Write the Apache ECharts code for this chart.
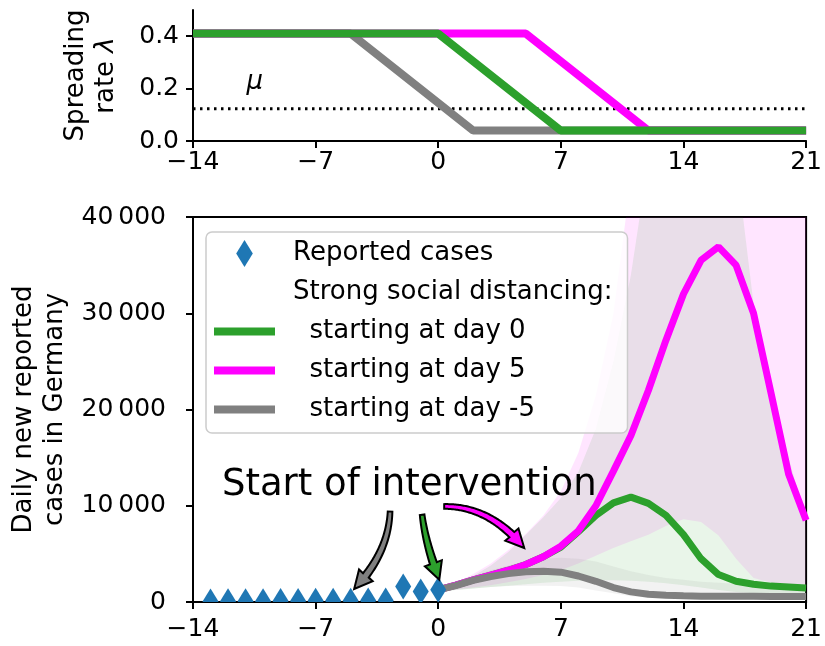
<!DOCTYPE html>
<html><head><meta charset="utf-8">
<script src="https://cdn.jsdelivr.net/npm/echarts@6/dist/echarts.min.js"></script>
<style>html,body{margin:0;padding:0;background:#fff}#c{width:825px;height:646px}</style>
</head><body><div id="c"></div>
<script>
// ---------- top panel: spreading rate ----------
const lambdaGray    = [[-14, 0.41], [-5, 0.41], [2, 0.04], [21, 0.04]];
const lambdaMagenta = [[-14, 0.41], [5, 0.41], [12, 0.04], [21, 0.04]];
const lambdaGreen   = [[-14, 0.41], [0, 0.41], [7, 0.04], [21, 0.04]];
const muValue = 0.123;
const xTicks = [-14, -7, 0, 7, 14, 21];
const topYTicks = [0, 0.2, 0.4];
const bottomYTicks = [0, 10000, 20000, 30000, 40000];

// ---------- bottom panel: daily new cases ----------
const reportedDays  = [-13, -12, -11, -10, -9, -8, -7, -6, -5, -4, -3, -2, -1, 0];
const reportedCases = [60, 70, 80, 90, 100, 110, 120, 130, 140, 150, 160, 1620, 1100, 1280];
const forecastDays  = [0,1,2,3,4,5,6,7,8,9,10,11,12,13,14,15,16,17,18,19,20,21];
const casesGreen    = [1250,1750,2300,2800,3300,3900,4700,5700,7300,9000,10300,10900,10250,9000,7000,4500,2850,2150,1850,1650,1550,1450];
const casesMagenta  = [1250,1750,2300,2800,3300,3900,4700,5800,7400,10000,13600,17300,22000,27200,32000,35500,36900,35000,30000,21700,13300,8500];
const casesGray     = [1250,1700,2250,2650,2950,3150,3200,3100,2700,2150,1500,1050,800,690,640,610,600,590,590,580,580,580];
// credible-interval bands
const magentaLow  = [1150,1300,1500,1750,2050,2400,2800,3300,4000,4800,5600,6300,7000,7900,8600,8300,6900,4500,2500,2000,1800,1700];
const magentaHigh = [1350,2000,2900,4000,5400,7100,9000,11500,15500,21500,30000,44000,60000,60000,60000,60000,60000,60000,60000,60000,60000,60000];
const greenLow    = [1100,1250,1400,1550,1700,1850,2000,2100,2200,2250,2250,2200,2100,1950,1750,1500,1250,1050,900,800,700,650];
const greenHigh   = [1300,1900,2700,3800,5200,7000,8800,10800,13500,18000,25000,34000,46000,55000,60000,60000,55000,46000,31000,22000,15000,8500];
const grayLow     = [1100,1250,1400,1550,1650,1700,1700,1650,1500,1200,900,600,450,380,340,320,300,290,280,270,260,250];
const grayHigh    = [1350,1900,2700,3300,3800,4200,4500,4600,4500,4200,3700,3200,2800,2500,2300,2100,2000,1900,1800,1700,1650,1600];

const FONT = 'DejaVu Sans';
const C_GREEN = '#2ca02c', C_MAG = '#ff00ff', C_GRAY = '#808080', C_BLUE = '#1f77b4';
const pair = (xs, ys) => xs.map((x, i) => [x, ys[i]]);
const fmtMinus = v => v < 0 ? '\u2212' + Math.abs(v) : String(v);
const fmtThousands = v => v === 0 ? '0' : String(v).replace(/\B(?=(\d{3})+(?!\d))/g, '\u2009');

// one filled polygon per band, drawn through the axis scales (api.coord), clipped to the plot area
function bandSeries(name, low, high, color) {
  return {
    type: 'custom', name: name, xAxisIndex: 1, yAxisIndex: 1, clip: true, silent: true, z: 1,
    data: [[forecastDays[0], low[0]]], encode: {x: 0, y: 1},
    renderItem: function (params, api) {
      const upper = forecastDays.map((d, i) => api.coord([d, high[i]]));
      const lower = forecastDays.map((d, i) => api.coord([d, low[i]])).reverse();
      return {type: 'polygon', shape: {points: upper.concat(lower)}, style: {fill: color}};
    }
  };
}

const axisLineStyle = {show: true, onZero: false, lineStyle: {color: '#000', width: 2}};
const axisTickStyle = {show: true, length: 7, lineStyle: {color: '#000', width: 2}};
const lineIcon = 'path://M0,0H61V8H0Z';

const chart = echarts.init(document.getElementById('c'));
const option = {
  animation: false,
  textStyle: {fontFamily: FONT},
  grid: [
    {left: 193, right: 17, top: 10, height: 131},
    {left: 193, right: 17, top: 217, height: 385, show: true, borderColor: '#000', borderWidth: 2, backgroundColor: 'transparent'}
  ],
  xAxis: [
    {type: 'value', gridIndex: 0, min: -14, max: 21, interval: 7, axisLine: axisLineStyle, axisTick: axisTickStyle,
     splitLine: {show: false}, axisLabel: {formatter: fmtMinus, fontSize: 25, color: '#000', margin: 9, fontFamily: FONT}},
    {type: 'value', gridIndex: 1, min: -14, max: 21, interval: 7, axisLine: axisLineStyle, axisTick: axisTickStyle,
     splitLine: {show: false}, axisLabel: {formatter: fmtMinus, fontSize: 25, color: '#000', margin: 15, fontFamily: FONT}}
  ],
  yAxis: [
    {type: 'value', gridIndex: 0, min: 0, max: 0.5, axisLine: axisLineStyle,
     axisTick: Object.assign({customValues: topYTicks}, axisTickStyle), splitLine: {show: false},
     axisLabel: {customValues: topYTicks, formatter: v => v.toFixed(1), fontSize: 25, color: '#000', margin: 14, fontFamily: FONT},
     name: 'Spreading\nrate {i|λ}', nameLocation: 'middle', nameRotate: 90, nameGap: 72,
     nameTextStyle: {fontSize: 26, color: '#000', lineHeight: 30, fontFamily: FONT,
       rich: {i: {fontStyle: 'italic', fontSize: 26, lineHeight: 30, fontFamily: FONT, color: '#000'}}}},
    {type: 'value', gridIndex: 1, min: 0, max: 40000, interval: 10000, axisLine: axisLineStyle, axisTick: axisTickStyle,
     splitLine: {show: false},
     axisLabel: {formatter: fmtThousands, fontSize: 25, color: '#000', margin: 27, fontFamily: FONT},
     name: 'Daily new reported\ncases in Germany', nameLocation: 'middle', nameRotate: 90, nameGap: 121,
     nameTextStyle: {fontSize: 26, color: '#000', lineHeight: 31, fontFamily: FONT}}
  ],
  legend: {
    left: 206, top: 232, orient: 'vertical', selectedMode: false,
    itemWidth: 61, itemHeight: 27, itemGap: 12,
    padding: [8, 15, 10, 8],
    backgroundColor: 'rgba(255,255,255,0.8)', borderColor: '#cccccc', borderWidth: 1.5, borderRadius: 6,
    textStyle: {fontSize: 26, color: '#000', fontFamily: FONT, lineHeight: 27, padding: [0, 0, 0, 13]},
    data: [
      {name: 'Reported cases', icon: 'path://M8,0L16,13L8,26L0,13Z', itemStyle: {color: C_BLUE, borderWidth: 0}},
      {name: 'Strong social distancing:', icon: 'rect', itemStyle: {color: 'rgba(0,0,0,0)', opacity: 0, borderWidth: 0}},
      {name: '  starting at day 0', icon: lineIcon, itemStyle: {color: C_GREEN, borderWidth: 0}},
      {name: '  starting at day 5', icon: lineIcon, itemStyle: {color: C_MAG, borderWidth: 0}},
      {name: '  starting at day -5', icon: lineIcon, itemStyle: {color: C_GRAY, borderWidth: 0}}
    ]
  },
  series: [
    // top panel
    {type: 'line', name: 'mu', xAxisIndex: 0, yAxisIndex: 0, symbol: 'none', silent: true,
     data: [[-14, muValue], [21, muValue]], lineStyle: {color: '#000', width: 3, type: [2.5, 4.5]}},
    {type: 'line', name: 'lambda -5', xAxisIndex: 0, yAxisIndex: 0, symbol: 'none', data: lambdaGray,
     lineStyle: {color: C_GRAY, width: 8}, itemStyle: {color: C_GRAY}},
    {type: 'line', name: 'lambda 5', xAxisIndex: 0, yAxisIndex: 0, symbol: 'none', data: lambdaMagenta,
     lineStyle: {color: C_MAG, width: 8}, itemStyle: {color: C_MAG}},
    {type: 'line', name: 'lambda 0', xAxisIndex: 0, yAxisIndex: 0, symbol: 'none', data: lambdaGreen,
     lineStyle: {color: C_GREEN, width: 8}, itemStyle: {color: C_GREEN}},
    // bottom panel bands
    bandSeries('bandMagenta', magentaLow, magentaHigh, 'rgba(255,0,255,0.1)'),
    bandSeries('bandGreen', greenLow, greenHigh, 'rgba(44,160,44,0.1)'),
    bandSeries('bandGray', grayLow, grayHigh, 'rgba(128,128,128,0.1)'),
    // bottom panel median lines
    {type: 'line', name: '  starting at day 0', xAxisIndex: 1, yAxisIndex: 1, symbol: 'none', z: 3,
     data: pair(forecastDays, casesGreen), lineStyle: {color: C_GREEN, width: 7}, itemStyle: {color: C_GREEN}},
    {type: 'line', name: '  starting at day 5', xAxisIndex: 1, yAxisIndex: 1, symbol: 'none', z: 3,
     data: pair(forecastDays, casesMagenta), lineStyle: {color: C_MAG, width: 7}, itemStyle: {color: C_MAG}},
    {type: 'line', name: '  starting at day -5', xAxisIndex: 1, yAxisIndex: 1, symbol: 'none', z: 3,
     data: pair(forecastDays, casesGray), lineStyle: {color: C_GRAY, width: 7}, itemStyle: {color: C_GRAY}},
    {type: 'line', name: 'Strong social distancing:', xAxisIndex: 1, yAxisIndex: 1, data: [],
     lineStyle: {opacity: 0}, itemStyle: {color: 'rgba(0,0,0,0)'}},
    // reported cases (thin diamonds, clipped by the plot area)
    {type: 'custom', name: 'Reported cases', xAxisIndex: 1, yAxisIndex: 1, clip: true, z: 4,
     data: pair(reportedDays, reportedCases), encode: {x: 0, y: 1}, itemStyle: {color: C_BLUE},
     renderItem: function (params, api) {
       const p = api.coord([api.value(0), api.value(1)]);
       return {type: 'polygon', shape: {points: [[p[0], p[1] - 13], [p[0] + 8, p[1]], [p[0], p[1] + 13], [p[0] - 8, p[1]]]},
               style: {fill: C_BLUE}};
     }}
  ]
};
chart.setOption(option);

// ---------- annotations (placed in data coordinates) ----------
const muLabelAt = [-10.47, 0.225];
const introTextAt = [-12.35, 12080];
const arrowsData = [
  {color: C_GRAY,  from: [-2.75, 9400], ctrl: [-2.84, 5070], to: [-4.8, 1350]},
  {color: C_GREEN, from: [-0.92, 9065], ctrl: [-0.72, 6000], to: [0.06, 2315]},
  {color: C_MAG,   from: [0.34, 9930],  ctrl: [2.95, 9950],  to: [4.91, 5610]}
];

function arrowPoints(P0, C, P2) {
  const N = 80, pts = [], L = [0];
  for (let i = 0; i <= N; i++) {
    const t = i / N, a = (1 - t) * (1 - t), b = 2 * (1 - t) * t, c = t * t;
    pts.push([a * P0[0] + b * C[0] + c * P2[0], a * P0[1] + b * C[1] + c * P2[1]]);
    if (i > 0) L.push(L[i - 1] + Math.hypot(pts[i][0] - pts[i - 1][0], pts[i][1] - pts[i - 1][1]));
  }
  const headLen = 17, hw = 9, w0 = 2.3, w1 = 3.6;
  const total = L[N];
  const body = [];
  for (let i = 0; i <= N; i++) if (L[i] <= total - headLen) body.push(pts[i]);
  const left = [], right = [];
  for (let i = 0; i < body.length; i++) {
    const pa = body[Math.max(0, i - 1)], pb = body[Math.min(body.length - 1, i + 1)];
    let dx = pb[0] - pa[0], dy = pb[1] - pa[1];
    const len = Math.hypot(dx, dy) || 1; dx /= len; dy /= len;
    const w = w0 + (w1 - w0) * (i / (body.length - 1));
    left.push([body[i][0] - dy * w, body[i][1] + dx * w]);
    right.push([body[i][0] + dy * w, body[i][1] - dx * w]);
  }
  const base = body[body.length - 1];
  let dx = P2[0] - base[0], dy = P2[1] - base[1];
  const len = Math.hypot(dx, dy) || 1; dx /= len; dy /= len;
  const hl = [base[0] - dy * hw, base[1] + dx * hw], hr = [base[0] + dy * hw, base[1] - dx * hw];
  return left.concat([left[left.length - 1], hl, P2, hr, right[right.length - 1]], right.slice().reverse());
}

const topRef = {xAxisIndex: 0, yAxisIndex: 0};
const botRef = {xAxisIndex: 1, yAxisIndex: 1};
const graphics = [];
const muPx = chart.convertToPixel(topRef, muLabelAt);
graphics.push({type: 'text', x: muPx[0], y: muPx[1], z: 100,
  style: {text: 'μ', font: 'italic 26px "DejaVu Sans"', fill: '#000', align: 'center', verticalAlign: 'middle'}});
const txtPx = chart.convertToPixel(botRef, introTextAt);
graphics.push({type: 'text', x: txtPx[0], y: txtPx[1], z: 100,
  style: {text: 'Start of intervention', font: '37px "DejaVu Sans"', fill: '#000', align: 'left', verticalAlign: 'middle'}});
arrowsData.forEach(a => {
  const p0 = chart.convertToPixel(botRef, a.from);
  const c = chart.convertToPixel(botRef, a.ctrl);
  const p2 = chart.convertToPixel(botRef, a.to);
  graphics.push({type: 'polygon', z: 100, shape: {points: arrowPoints(p0, c, p2)},
    style: {fill: a.color, stroke: '#000', lineWidth: 2, lineJoin: 'miter'}});
});
chart.setOption({graphic: graphics});
</script>
</body></html>
